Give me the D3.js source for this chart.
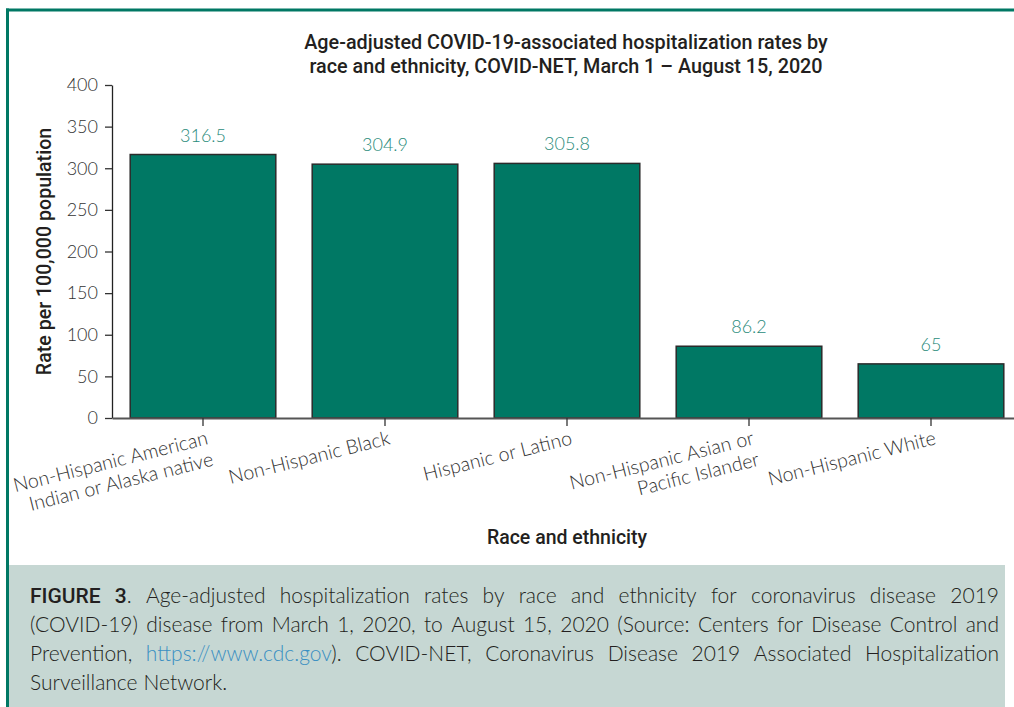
<!DOCTYPE html>
<html>
<head>
<meta charset="utf-8">
<script src="https://cdn.jsdelivr.net/npm/d3@7"></script>
<style>
    html, body { margin: 0; padding: 0; background: #fff; }
    svg { display: block; }
</style>
</head>
<body>
<div id="chart"></div>
<script>
/**
 * Data.
 */
const categories = [
    ['Non-Hispanic American', 'Indian or Alaska native'],
    ['Non-Hispanic Black'],
    ['Hispanic or Latino'],
    ['Non-Hispanic Asian or', 'Pacific Islander'],
    ['Non-Hispanic White']
];
const rates = [316.5, 304.9, 305.8, 86.2, 65];
const yTicks = [0, 50, 100, 150, 200, 250, 300, 350, 400];

const chartTitle = [
    'Age-adjusted COVID-19-associated hospitalization rates by',
    'race and ethnicity, COVID-NET, March 1 \u2013 August 15, 2020'
];
const yTitle = 'Rate per 100,000 population';
const xTitle = 'Race and ethnicity';

// Caption lines; "text|style" marks a styled part (b bold, a link, n normal)
const captionLines = [
    'FIGURE|b 3|b .|n Age-adjusted hospitalization rates by race and ethnicity for coronavirus disease 2019',
    '(COVID-19) disease from March 1, 2020, to August 15, 2020 (Source: Centers for Disease Control and',
    'Prevention, https://www.cdc.gov|a ).|n COVID-NET, Coronavirus Disease 2019 Associated Hospitalization',
    'Surveillance Network.'
];

/**
 * Visual configs.
 */
const W = 1014, H = 707;
const margin = { top: 85, left: 112, bottom: 418, right: 1022 };
const teal = '#007864',
    labelTeal = '#2a8b7b',
    ink = '#333';

const svg = d3.select('#chart').append('svg')
    .attr('width', W).attr('height', H);

svg.append('rect').attr('width', W).attr('height', H).attr('fill', '#fff');

// Caption box and frame
svg.append('rect')
    .attr('x', 9).attr('y', 565).attr('width', 996).attr('height', H - 565)
    .attr('fill', '#c6d7d3');
svg.append('line')
    .attr('x1', 6).attr('x2', W).attr('y1', 10).attr('y2', 10)
    .attr('stroke', teal).attr('stroke-width', 3);
svg.append('line')
    .attr('x1', 7.5).attr('x2', 7.5).attr('y1', 8.5).attr('y2', H)
    .attr('stroke', teal).attr('stroke-width', 3);

/**
 * Scales.
 */
const x = d3.scaleBand()
    .domain(d3.range(categories.length))
    .range([margin.left, margin.right])
    .paddingInner(0.2)
    .paddingOuter(0.1);

const y = d3.scaleLinear()
    .domain([0, 400])
    .range([margin.bottom, margin.top]);

const lightFont = 'Lato, "Open Sans", sans-serif';
const boldFont = 'Roboto, "DejaVu Sans", sans-serif';

/**
 * Title.
 */
svg.append('text')
    .attr('x', 566).attr('y', 49)
    .attr('text-anchor', 'middle')
    .attr('font-family', boldFont).attr('font-weight', 500)
    .attr('font-size', 19.8).attr('fill', '#231f20')
    .selectAll('tspan').data(chartTitle).join('tspan')
    .attr('x', 566).attr('dy', (d, i) => i ? 24 : 0)
    .text(d => d);

/**
 * Bars.
 */
svg.append('g').selectAll('rect').data(rates).join('rect')
    .attr('x', (d, i) => x(i))
    .attr('y', d => y(d))
    .attr('width', x.bandwidth())
    .attr('height', d => y(0) - y(d))
    .attr('fill', teal)
    .attr('stroke', '#2b2b2b').attr('stroke-width', 1.5);

svg.append('g').selectAll('text').data(rates).join('text')
    .attr('x', (d, i) => x(i) + x.bandwidth() / 2)
    .attr('y', d => y(d) - 13)
    .attr('text-anchor', 'middle')
    .attr('font-family', lightFont).attr('font-weight', 300)
    .attr('font-size', 18).attr('fill', labelTeal)
    .text(d => String(d));

/**
 * Axes.
 */
const yAxis = svg.append('g')
    .attr('transform', 'translate(' + margin.left + ',0)')
    .call(d3.axisLeft(y).tickValues(yTicks).tickSize(7).tickPadding(7).tickSizeOuter(0));
yAxis.select('.domain').attr('stroke', '#222').attr('stroke-width', 1.3);
yAxis.selectAll('.tick line').attr('stroke', '#333').attr('stroke-width', 1.3);
yAxis.selectAll('.tick text')
    .attr('font-family', lightFont).attr('font-weight', 300)
    .attr('font-size', 18).attr('fill', ink);

const xAxis = svg.append('g')
    .attr('transform', 'translate(0,' + margin.bottom + ')')
    .call(d3.axisBottom(x).tickSize(8).tickSizeOuter(0).tickFormat(''));
xAxis.select('.domain').attr('stroke', '#555').attr('stroke-width', 2.2);
xAxis.selectAll('.tick line').attr('stroke', '#333').attr('stroke-width', 1.3);

// Rotated category labels
svg.append('g').selectAll('text').data(categories).join('text')
    .attr('transform', (d, i) => 'translate(' + (x(i) + x.bandwidth() / 2 + 6) + ',444) rotate(-14)')
    .attr('text-anchor', 'end')
    .attr('font-family', lightFont).attr('font-weight', 300)
    .attr('font-size', 19.6).attr('fill', ink)
    .selectAll('tspan').data(d => d).join('tspan')
    .attr('x', 0).attr('dy', (d, i) => i ? 22 : 0)
    .text(d => d);

svg.append('text')
    .attr('transform', 'translate(51,' + (margin.top + margin.bottom) / 2 + ') rotate(-90)')
    .attr('text-anchor', 'middle')
    .attr('font-family', boldFont).attr('font-weight', 500)
    .attr('font-size', 19.6).attr('fill', '#231f20')
    .text(yTitle);

svg.append('text')
    .attr('x', 567).attr('y', 544)
    .attr('text-anchor', 'middle')
    .attr('font-family', boldFont).attr('font-weight', 500)
    .attr('font-size', 19.5).attr('fill', '#231f20')
    .text(xTitle);

/**
 * Caption, justified line by line.
 */
const capLeft = 30, capRight = 999, capTop = 603, capStep = 29;
const partStyle = {
    n: { family: lightFont, weight: 300, fill: '#231f20' },
    b: { family: boldFont, weight: 500, fill: '#231f20' },
    a: { family: lightFont, weight: 300, fill: '#3a8fc2' }
};

// Splits a caption line into words; "3|b" and link parts glue to the next token
function parseLine(line) {
    const words = [];
    line.split(' ').forEach(tok => {
        const m = tok.match(/^(.*)\|([bna])$/);
        const part = m ? { t: m[1], s: m[2] } : { t: tok, s: 'n' };
        const prev = words[words.length - 1];
        if (prev && prev.glueNext) prev.parts.push(part);
        else words.push({ parts: [part] });
        const last = words[words.length - 1];
        last.glueNext = m && (m[1] === '3' || m[2] === 'a');
    });
    return words;
}

const caption = svg.append('g').attr('font-size', 21);
captionLines.forEach((line, li) => {
    const words = parseLine(line);
    const texts = words.map(w => {
        const t = caption.append('text').attr('y', capTop + li * capStep);
        w.parts.forEach(p => {
            const st = partStyle[p.s];
            t.append('tspan').attr('font-family', st.family).attr('font-weight', st.weight)
                .attr('fill', st.fill).text(p.t);
        });
        return t;
    });
    const widths = texts.map(t => t.node().getComputedTextLength());
    const total = d3.sum(widths);
    const last = li === captionLines.length - 1;
    const gap = last ? 6 : (capRight - capLeft - total) / (texts.length - 1);
    let cx = capLeft;
    texts.forEach((t, i) => {
        t.attr('x', cx);
        cx += widths[i] + gap;
    });
});
</script>
</body>
</html>
